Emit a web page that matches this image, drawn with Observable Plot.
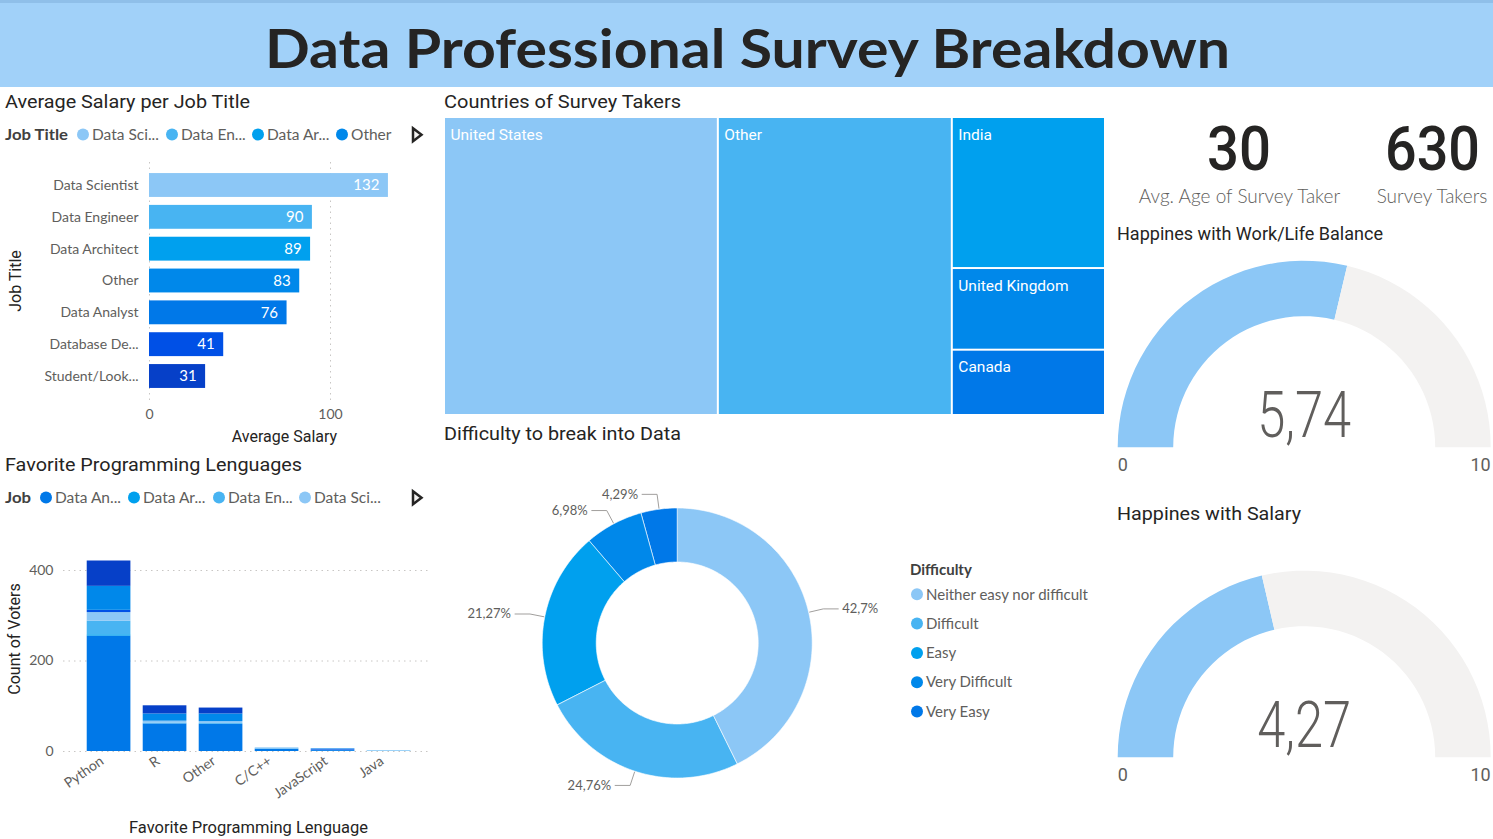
<!DOCTYPE html>
<html>
<head>
<meta charset="utf-8">
<script src="https://cdn.jsdelivr.net/npm/d3@7"></script>
<script src="https://cdn.jsdelivr.net/npm/@observablehq/plot@0.6"></script>
<style>
  html,body{margin:0;padding:0;background:#fff;}
  #page{position:relative;width:1493px;height:839px;overflow:hidden;background:#fff;font-family:Lato,"Noto Sans",sans-serif;}
  .panel{position:absolute;}
  #header{position:absolute;left:0;top:0;width:1493px;height:84px;background:#a1d1f9;border-top:3px solid #8fbfe9;}
  #overlay{position:absolute;left:0;top:0;pointer-events:none;}
</style>
</head>
<body>
<div id="page"><div id="header"></div></div>
<script>
// ---------------- DATA ----------------
const dashboardTitle = "Data Professional Survey Breakdown";

const jobTitles = ["Data Scientist","Data Engineer","Data Architect","Other","Data Analyst","Database Developer","Student/Looking/None"];
const jobTickLabels = ["Data Scientist","Data Engineer","Data Architect","Other","Data Analyst","Database De...","Student/Look..."];
const avgSalary = [132, 90, 89, 83, 76, 41, 31];
const salaryTicks = [0, 100];
const legend1Labels = ["Data Sci...","Data En...","Data Ar...","Other"];

const languages = ["Python","R","Other","C/C++","JavaScript","Java"];
const stackJobs = ["Data Analyst","Data Architect","Data Engineer","Data Scientist","Database Developer","Other","Student/Looking/None"];
const legend2Labels = ["Data An...","Data Ar...","Data En...","Data Sci..."];
const votesPython = [255, 3, 30, 19, 5, 53, 56];
const votesR      = [61, 0, 2, 4, 0, 16, 18];
const votesOther  = [60, 0, 2, 4, 0, 17, 13];
const votesC      = [5, 0, 1, 2, 0, 0, 0];
const votesJS     = [2, 0, 1, 0, 2, 1, 0];
const votesJava   = [0, 0, 1, 1, 0, 0, 0];
const voteTicks = [0, 200, 400];

const countries = ["United States","Other","India","United Kingdom","Canada"];
const countryCounts = [261, 223, 74, 40, 32];

const difficulty = ["Neither easy nor difficult","Difficult","Easy","Very Difficult","Very Easy"];
const difficultyCounts = [269, 156, 134, 44, 27];

const kpiLabels = ["Avg. Age of Survey Taker","Survey Takers"];
const kpiValues = [30, 630];

const gaugeTitles = ["Happines with Work/Life Balance","Happines with Salary"];
const gaugeValues = [5.74, 4.27];
const gaugeRange = [0, 10];

// ---------------- STYLE ----------------
const palette = ["#8cc7f6","#48b4f2","#00a0ee","#0088ea","#0078e8","#0050e6","#0640c8"];
const DIN = "Roboto, 'DejaVu Sans Condensed', sans-serif";
const SEGOE = "Lato, 'Noto Sans', sans-serif";
const grey = "#605e5c", dark = "#252423";
const jobColor = new Map(jobTitles.map((j, i) => [j, palette[i]]));
const commaFmt = (f) => (v) => d3.format(f)(v).replace(".", ",");

const page = document.getElementById("page");
function place(el, left, top) {
  const w = document.createElement("div");
  w.className = "panel"; w.style.left = left + "px"; w.style.top = top + "px";
  w.appendChild(el); page.appendChild(w); return el;
}
const baseStyle = {background: "transparent", fontFamily: SEGOE, fontSize: "15px", color: grey, overflow: "visible"};

// ---------------- CHART 1: Average salary ----------------
const salaryData = jobTitles.map((job, i) => ({job, salary: avgSalary[i]}));
const tickMap = new Map(jobTitles.map((j, i) => [j, jobTickLabels[i]]));
const chart1 = Plot.plot({
  width: 440, height: 300,
  marginTop: 12, marginBottom: 50, marginLeft: 149, marginRight: 10,
  style: baseStyle,
  x: {domain: [0, 100], range: [149, 330]},
  y: {domain: jobTitles, range: [15.1, 245.9], padding: 0.25, round: false},
  color: {domain: jobTitles, range: palette},
  marks: [
    Plot.ruleX(salaryTicks, {stroke: "#c8c6c4", strokeDasharray: "1.5,4"}),
    Plot.barX(salaryData, {x: "salary", y: "job", fill: "job"}),
    Plot.text(salaryData, {x: "salary", y: "job", text: d => String(d.salary), textAnchor: "end", dx: -9, fill: "white", fontSize: 15}),
    Plot.axisY({tickSize: 0, tickPadding: 11, tickFormat: d => tickMap.get(d), label: null, fontSize: 14}),
    Plot.axisX({ticks: salaryTicks, tickSize: 0, tickPadding: 9, label: null, fontSize: 14})
  ]
});
place(chart1, 0, 150);

// ---------------- CHART 2: Favorite languages ----------------
const votesByLanguage = [votesPython, votesR, votesOther, votesC, votesJS, votesJava];
const voteData = languages.flatMap((lang, li) => stackJobs.map((job, ji) => ({lang, job, count: votesByLanguage[li][ji]})));
const chart2 = Plot.plot({
  width: 440, height: 299,
  marginTop: 20, marginBottom: 86, marginLeft: 63, marginRight: 10,
  style: baseStyle,
  x: {domain: languages, range: [74.4, 422.7], padding: 0.22, round: false},
  y: {domain: [0, 400], range: [211, 30]},
  color: {domain: stackJobs, range: stackJobs.map(j => jobColor.get(j))},
  marks: [
    Plot.ruleY(voteTicks, {stroke: "#c8c6c4", strokeDasharray: "1.5,4"}),
    Plot.barY(voteData, {x: "lang", y: "count", fill: "job"}),
    Plot.axisY({ticks: voteTicks, tickSize: 0, tickPadding: 10, label: null, fontSize: 14}),
    Plot.axisX({tickSize: 0, tickPadding: 6, tickRotate: -35, dx: -7, label: null, fontSize: 14})
  ]
});
place(chart2, 0, 540);

// ---------------- TREEMAP ----------------
const tmW = 661, tmH = 298;
const tmRoot = d3.hierarchy({children: [
  {name: countries[0], value: countryCounts[0]},
  {name: countries[1], value: countryCounts[1]},
  {children: countries.slice(2).map((c, i) => ({name: c, value: countryCounts[i + 2]}))}
]}).sum(d => d.value || 0);
d3.treemap().size([tmW, tmH]).tile(d3.treemapSliceDice)(tmRoot);
const cells = tmRoot.leaves().map(l => ({name: l.data.name, x0: l.x0, x1: l.x1, y0: l.y0, y1: l.y1}));
const treemap = Plot.plot({
  width: 670, height: 310, margin: 0,
  style: baseStyle,
  x: {domain: [0, tmW], range: [4, 4 + tmW], axis: null},
  y: {domain: [0, tmH], range: [5, 5 + tmH], axis: null},
  color: {domain: countries, range: palette.slice(0, 5)},
  marks: [
    Plot.rect(cells, {x1: "x0", x2: "x1", y1: "y0", y2: "y1", fill: "name", inset: 1}),
    Plot.text(cells, {x: "x0", y: "y0", text: "name", dx: 6, dy: 22, textAnchor: "start", lineAnchor: "bottom", fill: "white", fontSize: 15.5, fontFamily: DIN})
  ]
});
place(treemap, 440, 112);

// ---------------- DONUT ----------------
function ring(key, a0, a1, rIn, rOut, polar) {
  const n = Math.max(2, Math.ceil(Math.abs(a1 - a0) / 0.02));
  const pts = [];
  for (let i = 0; i <= n; i++) pts.push({key, ...polar(a0 + (a1 - a0) * i / n, rOut)});
  for (let i = n; i >= 0; i--) pts.push({key, ...polar(a0 + (a1 - a0) * i / n, rIn)});
  return pts;
}
const donutPolar = (a, r) => ({x: r * Math.sin(a), y: r * Math.cos(a)});
const dTotal = d3.sum(difficultyCounts);
const arcs = d3.pie().sort(null).value(d => d)(difficultyCounts);
const donutPts = arcs.flatMap((a, i) => ring(difficulty[i], a.startAngle, a.endAngle, 81 / 135, 1, donutPolar));
const leaders = [], dLabels = [];
arcs.forEach((a, i) => {
  const m = (a.startAngle + a.endAngle) / 2;
  const right = m < Math.PI;
  const p1 = donutPolar(m, 136 / 135), p2 = donutPolar(m, 150 / 135);
  const p3 = {x: p2.x + (right ? 15 : -15) / 135, y: p2.y};
  leaders.push({key: difficulty[i], ...p1}, {key: difficulty[i], ...p2}, {key: difficulty[i], ...p3});
  dLabels.push({right, x: p3.x + (right ? 4 : -4) / 135, y: p3.y, text: commaFmt(".2~f")(difficultyCounts[i] / dTotal * 100) + "%"});
});
const donut = Plot.plot({
  width: 470, height: 389, margin: 0,
  style: baseStyle,
  x: {domain: [-1, 1], range: [101.7, 371.7], axis: null},
  y: {domain: [-1, 1], range: [327.5, 57.5], axis: null},
  color: {domain: difficulty, range: palette.slice(0, 5)},
  marks: [
    Plot.line(donutPts, {x: "x", y: "y", z: "key", fill: "key", stroke: "white", strokeWidth: 0.6, curve: "linear-closed"}),
    Plot.line(leaders, {x: "x", y: "y", z: "key", stroke: "#a19f9d", strokeWidth: 1}),
    Plot.text(dLabels.filter(d => d.right), {x: "x", y: "y", text: "text", textAnchor: "start", fontSize: 13, fill: grey}),
    Plot.text(dLabels.filter(d => !d.right), {x: "x", y: "y", text: "text", textAnchor: "end", fontSize: 13, fill: grey})
  ]
});
place(donut, 440, 450);

// ---------------- GAUGES ----------------
const gaugePolar = (t, r) => ({x: r * Math.cos(Math.PI * (1 - t)), y: r * Math.sin(Math.PI * (1 - t))});
function gauge(value) {
  const f = (value - gaugeRange[0]) / (gaugeRange[1] - gaugeRange[0]);
  const pts = [...ring("value", 0, f, 131 / 186.5, 1, gaugePolar), ...ring("rest", f, 1, 131 / 186.5, 1, gaugePolar)];
  return Plot.plot({
    width: 383, height: 230, margin: 0,
    style: baseStyle,
    x: {domain: [-1, 1], range: [7.2, 380.2], axis: null},
    y: {domain: [0, 1], range: [196.7, 10.2], axis: null},
    color: {domain: ["value", "rest"], range: ["#8cc7f6", "#f3f2f1"]},
    marks: [
      Plot.line(pts, {x: "x", y: "y", z: "key", fill: "key", curve: "linear-closed"}),
      Plot.text([value], {x: 0, y: 0, text: d => commaFmt(".2f")(d), lineAnchor: "bottom", dy: -10, fontSize: 64, fontWeight: 300, fontFamily: DIN, fill: grey}),
      Plot.text([gaugeRange[0]], {x: -1, y: 0, text: d => String(d), textAnchor: "start", lineAnchor: "bottom", dy: 24, fontSize: 18, fontFamily: DIN, fill: grey}),
      Plot.text([gaugeRange[1]], {x: 1, y: 0, text: d => String(d), textAnchor: "end", lineAnchor: "bottom", dy: 24, fontSize: 18, fontFamily: DIN, fill: grey})
    ]
  });
}
const g1 = place(gauge(gaugeValues[0]), 1110, 250);
const g2 = place(gauge(gaugeValues[1]), 1110, 560);
[g1, g2].forEach(g => {
  const t = g.querySelector('g[aria-label="text"] text');
  if (t) { t.setAttribute("textLength", 94); t.setAttribute("lengthAdjust", "spacingAndGlyphs"); }
});

// ---------------- OVERLAY TEXT ----------------
const NS = "http://www.w3.org/2000/svg";
const overlay = document.createElementNS(NS, "svg");
overlay.setAttribute("id", "overlay");
overlay.setAttribute("width", 1493); overlay.setAttribute("height", 839);
function addText(str, x, y, o = {}) {
  const t = document.createElementNS(NS, "text");
  t.textContent = str;
  t.setAttribute("x", x); t.setAttribute("y", y);
  t.setAttribute("font-family", o.family || SEGOE);
  t.setAttribute("font-size", o.size || 15);
  t.setAttribute("font-weight", o.weight || 400);
  t.setAttribute("fill", o.fill || grey);
  t.setAttribute("text-anchor", o.anchor || "start");
  if (o.len) { t.setAttribute("textLength", o.len); t.setAttribute("lengthAdjust", "spacingAndGlyphs"); }
  if (o.rotate != null) t.setAttribute("transform", `rotate(${o.rotate} ${x} ${y})`);
  overlay.appendChild(t); return t;
}
function addDot(cx, cy, r, fill) {
  const c = document.createElementNS(NS, "circle");
  c.setAttribute("cx", cx); c.setAttribute("cy", cy); c.setAttribute("r", r); c.setAttribute("fill", fill);
  overlay.appendChild(c);
}
function addArrow(x, y) {
  const p = document.createElementNS(NS, "polygon");
  p.setAttribute("points", `${x},${y - 6.5} ${x + 8.5},${y} ${x},${y + 6.5}`);
  p.setAttribute("fill", "#f3f2f1"); p.setAttribute("stroke", dark); p.setAttribute("stroke-width", 2.5);
  overlay.appendChild(p);
}

addText(dashboardTitle, 747.5, 68, {size: 54, weight: 700, fill: dark, anchor: "middle", len: 965});

// panel titles
addText("Average Salary per Job Title", 5, 108, {family: DIN, size: 19, fill: dark, len: 245});
addText("Favorite Programming Lenguages", 5, 471, {family: DIN, size: 19, fill: dark, len: 297});
addText("Countries of Survey Takers", 444, 108, {family: DIN, size: 19, fill: dark, len: 237});
addText("Difficulty to break into Data", 444, 440, {family: DIN, size: 19, fill: dark, len: 237});
addText(gaugeTitles[0], 1117, 239.5, {family: DIN, size: 19, fill: dark, len: 266});
addText(gaugeTitles[1], 1117, 519.5, {family: DIN, size: 19, fill: dark, len: 184});

// legend 1
addText("Job Title", 5, 140, {weight: 700, size: 16, fill: "#404040", len: 63});
[83, 172, 258, 342].forEach((x, i) => { addDot(x, 134.5, 6, palette[i]); addText(legend1Labels[i], x + 9, 140, {size: 15.5}); });
addArrow(413, 134.8);
// legend 2
addText("Job", 5, 503, {weight: 700, size: 16, fill: "#404040", len: 26});
[46, 134, 219, 305].forEach((x, i) => { addDot(x, 497.5, 6, jobColor.get(stackJobs[i])); addText(legend2Labels[i], x + 9, 503, {size: 15.5}); });
addArrow(413, 497.8);

// axis titles
addText("Job Title", 21, 281, {family: DIN, size: 16, fill: dark, anchor: "middle", rotate: -90});
addText("Average Salary", 284.5, 441.5, {family: DIN, size: 16, fill: dark, anchor: "middle"});
addText("Count of Voters", 20, 639, {family: DIN, size: 16, fill: dark, anchor: "middle", rotate: -90});
addText("Favorite Programming Lenguage", 248.5, 832.5, {family: DIN, size: 16.5, fill: dark, anchor: "middle"});

// difficulty legend
addText("Difficulty", 910, 575, {weight: 700, size: 15, fill: "#404040"});
difficulty.forEach((d, i) => { addDot(917, 594.3 + 29.3 * i, 6, palette[i]); addText(d, 926, 599.5 + 29.3 * i, {size: 15}); });

// KPIs
addText(String(kpiValues[0]), 1239, 169.5, {family: DIN, size: 62, weight: 500, fill: dark, anchor: "middle", len: 64});
addText(String(kpiValues[1]), 1432.5, 169.5, {family: DIN, size: 62, weight: 500, fill: dark, anchor: "middle", len: 95});
addText(kpiLabels[0], 1239.5, 203, {size: 19, weight: 300, anchor: "middle", fill: grey});
addText(kpiLabels[1], 1432, 203, {size: 19, weight: 300, anchor: "middle", fill: grey});

page.appendChild(overlay);
</script>
</body>
</html>
